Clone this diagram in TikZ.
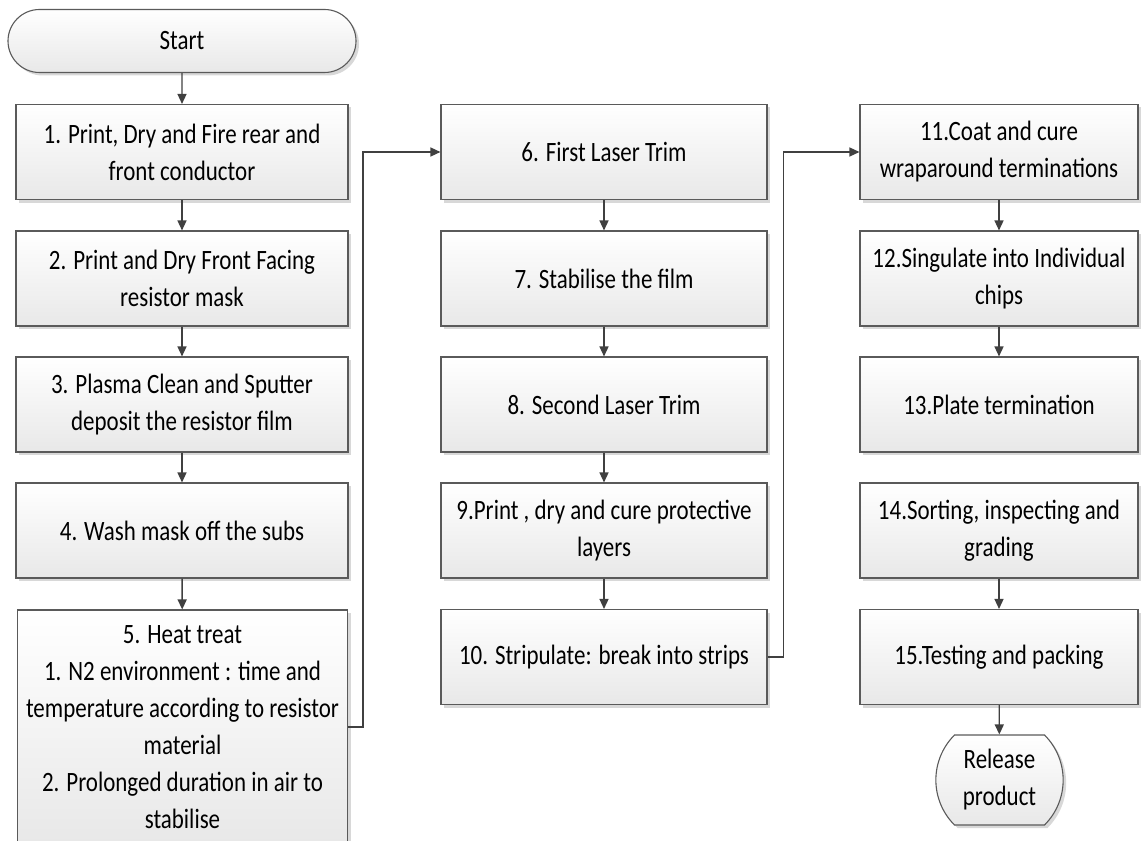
\documentclass[tikz,border=0pt]{standalone}
\usepackage{fontspec}
\setmainfont[FakeStretch=0.82]{Carlito}
\usepackage{xcolor}
\definecolor{edge}{HTML}{5A5A5A}
\definecolor{wire}{HTML}{404040}
\definecolor{boxlow}{HTML}{E8E8E8}
\usepackage{tikz}
\usetikzlibrary{arrows.meta,shadows,shapes.misc}

\tikzset{
  stepbox/.style={draw=edge, line width=1.1pt, top color=white, bottom color=boxlow,
    drop shadow={shadow xshift=3pt, shadow yshift=-3pt, fill=black!30, opacity=0.5},
    inner sep=0pt, align=center, font=\fontsize{28}{37}\selectfont},
  termbox/.style={stepbox, rounded rectangle},
  flow/.style={draw=wire, line width=1.4pt, -{Triangle[length=10pt,width=9pt]}},
}

\begin{document}
\begin{tikzpicture}[x=1pt,y=1pt]
  \useasboundingbox (0,0) rectangle (1142,-840);

  \node[termbox, minimum width=348pt, minimum height=63pt] (start) at (182,-41) {Start};

  % first column
  \foreach \n/\txt/\ypos in {1/{1. Print, Dry and Fire rear and\\front conductor}/152,
      2/{2. Print and Dry Front Facing\\resistor mask}/278.5,
      3/{3. Plasma Clean and Sputter\\deposit the resistor film}/404.5,
      4/{4. Wash mask off the subs}/530.5} {
    \node[stepbox, minimum width=332pt, minimum height=95pt] (s\n) at (182,-\ypos) {\txt};
  }
  \node[stepbox, minimum width=330pt, minimum height=234pt] (s5) at (182.5,-727) {5. Heat treat\\1. N2 environment : time and\\temperature according to resistor\\material\\2. Prolonged duration in air to\\stabilise};

  % second column
  \foreach \n/\txt/\ypos in {6/{6. First Laser Trim}/152,
      7/{7. Stabilise the film}/278.5,
      8/{8. Second Laser Trim}/404.5,
      9/{9.Print , dry and cure protective\\layers}/530.5,
      10/{10. Stripulate: break into strips}/657} {
    \node[stepbox, minimum width=326pt, minimum height=95pt] (s\n) at (604,-\ypos) {\txt};
  }

  % third column
  \foreach \n/\txt/\ypos in {11/{11.Coat and cure\\wraparound terminations}/152,
      12/{12.Singulate into Individual\\chips}/278.5,
      13/{13.Plate termination}/404.5,
      14/{14.Sorting, inspecting and\\grading}/530.5,
      15/{15.Testing and packing}/657} {
    \node[stepbox, minimum width=278pt, minimum height=95pt] (s\n) at (999,-\ypos) {\txt};
  }

  \node[termbox, rounded rectangle arc length=90, minimum width=115pt, minimum height=90pt] (release) at (999.5,-780) {Release\\product};

  \foreach \a/\b in {start/s1, s1/s2, s2/s3, s3/s4, s4/s5, s6/s7, s7/s8, s8/s9, s9/s10,
      s11/s12, s12/s13, s14/s15, s15/release}
    \draw[flow] (\a) -- (\b);

  \draw[flow] (s5.east) -- ++(15,0) |- (s6.west);
  \draw[flow] (s10.east) -- ++(16,0) |- (s11.west);
\end{tikzpicture}
\end{document}
